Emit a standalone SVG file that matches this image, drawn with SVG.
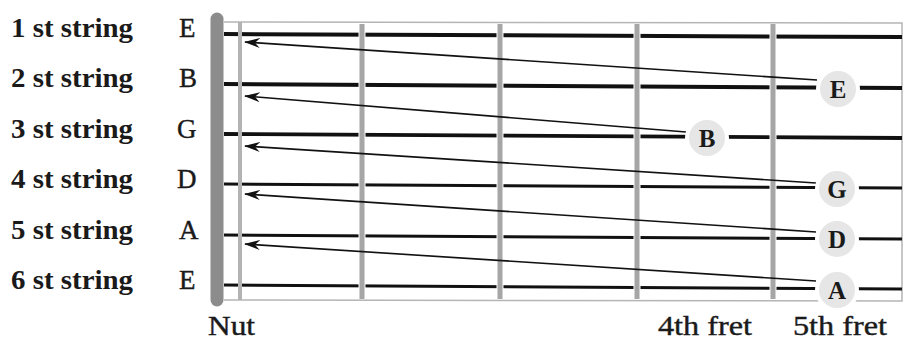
<svg xmlns="http://www.w3.org/2000/svg" width="904" height="342" viewBox="0 0 904 342">
<defs>
<marker id="ah" markerWidth="16" markerHeight="10" refX="15" refY="5" orient="auto" markerUnits="userSpaceOnUse">
<path d="M16,5 L0,0 L5,5 L0,10 Z" fill="#111"/>
</marker>
<style>
.lbl{font-family:"Liberation Serif",serif;font-size:27px;font-weight:bold;fill:#1a1a1a}
.note{font-family:"Liberation Serif",serif;font-size:27px;fill:#1a1a1a;stroke:#1a1a1a;stroke-width:0.4}
.cl{font-family:"Liberation Serif",serif;font-size:25px;font-weight:bold;fill:#1a1a1a;text-anchor:middle}
.str{stroke:#111;fill:none}
.fret{stroke:#a6a6a6;stroke-width:5}
.halo{stroke:#fff;stroke-width:7}
.circ{fill:#e6e6e6;stroke:#fff;stroke-width:4}
.arr{stroke:#111;stroke-width:1.6;fill:none}
.border{stroke:#b5b5b5;stroke-width:1.5;fill:none}
</style>
</defs>
<rect width="904" height="342" fill="#fff"/>
<g id="labels">
<text class="lbl" x="11" y="37" textLength="122" lengthAdjust="spacingAndGlyphs">1 st string</text>
<text class="lbl" x="11" y="87" textLength="122" lengthAdjust="spacingAndGlyphs">2 st string</text>
<text class="lbl" x="11" y="138" textLength="122" lengthAdjust="spacingAndGlyphs">3 st string</text>
<text class="lbl" x="11" y="188" textLength="122" lengthAdjust="spacingAndGlyphs">4 st string</text>
<text class="lbl" x="11" y="239" textLength="122" lengthAdjust="spacingAndGlyphs">5 st string</text>
<text class="lbl" x="11" y="289" textLength="122" lengthAdjust="spacingAndGlyphs">6 st string</text>
<text class="note" x="179" y="37">E</text>
<text class="note" x="179" y="87">B</text>
<text class="note" x="177" y="138">G</text>
<text class="note" x="177" y="188">D</text>
<text class="note" x="179" y="239">A</text>
<text class="note" x="179" y="289">E</text>
<text class="note" x="208" y="335" textLength="47" lengthAdjust="spacingAndGlyphs">Nut</text>
<text class="note" x="658" y="335" textLength="94" lengthAdjust="spacingAndGlyphs">4th fret</text>
<text class="note" x="793" y="335" textLength="94" lengthAdjust="spacingAndGlyphs">5th fret</text>
</g>
<g id="fretboard">
<path class="border" d="M224,22 L902,23 L902,301 L224,300"/>
<line class="str" x1="224" y1="34" x2="902" y2="37" stroke-width="4"/>
<line class="str" x1="224" y1="84" x2="902" y2="88" stroke-width="4"/>
<line class="str" x1="224" y1="134" x2="902" y2="138" stroke-width="3.8"/>
<line class="str" x1="224" y1="184" x2="902" y2="188" stroke-width="3"/>
<line class="str" x1="224" y1="235" x2="902" y2="239" stroke-width="3"/>
<line class="str" x1="224" y1="285" x2="902" y2="289" stroke-width="3"/>
<g id="frets">
<line class="halo" x1="362" y1="24" x2="362" y2="299"/>
<line class="halo" x1="500" y1="24" x2="500" y2="299"/>
<line class="halo" x1="637" y1="24" x2="637" y2="299"/>
<line class="halo" x1="773" y1="24" x2="773" y2="299"/>
<line x1="240" y1="22" x2="240" y2="300" stroke="#b3b3b3" stroke-width="4"/>
<line class="fret" x1="362" y1="24" x2="362" y2="299"/>
<line class="fret" x1="500" y1="24" x2="500" y2="299"/>
<line class="fret" x1="637" y1="24" x2="637" y2="299"/>
<line class="fret" x1="773" y1="24" x2="773" y2="299"/>
</g>
<line id="nut" x1="217" y1="19" x2="217" y2="300" stroke="#8c8c8c" stroke-width="13" stroke-linecap="round"/>
</g>
<g id="connectors">
<line class="arr" x1="817" y1="80" x2="245" y2="42" marker-end="url(#ah)"/>
<line class="arr" x1="686" y1="132" x2="245" y2="96" marker-end="url(#ah)"/>
<line class="arr" x1="816" y1="183" x2="245" y2="146" marker-end="url(#ah)"/>
<line class="arr" x1="816" y1="232" x2="245" y2="194" marker-end="url(#ah)"/>
<line class="arr" x1="816" y1="281" x2="245" y2="244" marker-end="url(#ah)"/>
</g>
<g id="node-E1"><circle class="circ" cx="838" cy="89" r="20"/><text class="cl" x="838" y="98">E</text></g>
<g id="node-B"><circle class="circ" cx="707" cy="138" r="20"/><text class="cl" x="707" y="147">B</text></g>
<g id="node-G"><circle class="circ" cx="837" cy="189" r="20"/><text class="cl" x="837" y="198">G</text></g>
<g id="node-D"><circle class="circ" cx="837" cy="239" r="20"/><text class="cl" x="837" y="248">D</text></g>
<g id="node-A"><circle class="circ" cx="837" cy="290" r="20"/><text class="cl" x="837" y="299">A</text></g>
</svg>
